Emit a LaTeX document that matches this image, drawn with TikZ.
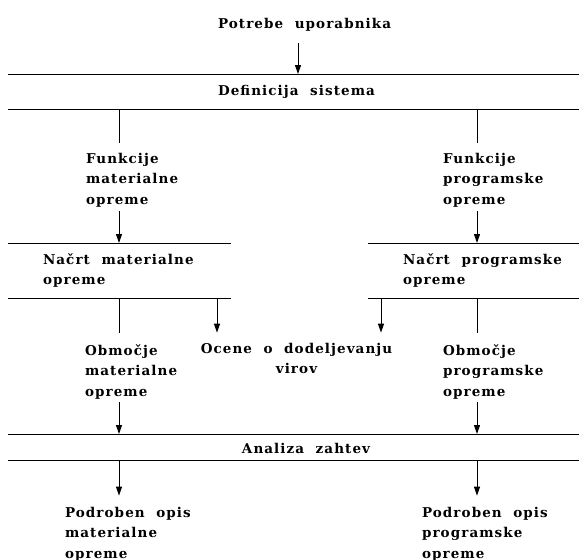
\documentclass[tikz,border=0pt]{standalone}
\usepackage{fontspec}
\setmainfont{DejaVu Serif}[LetterSpace=8,WordSpace=2.0]
\usetikzlibrary{arrows.meta}

% stacked lines whose reference point is the first baseline
\newcommand{\stackL}[1]{\begin{tabular}[t]{@{}l@{}}#1\end{tabular}}
\newcommand{\stackC}[1]{\begin{tabular}[t]{@{}c@{}}#1\end{tabular}}

\begin{document}
\begin{tikzpicture}[x=1pt,y=-1pt,
  txt/.style={inner sep=0pt, outer sep=0pt, anchor=base west,
    font=\fontsize{13.5}{20.5}\selectfont\bfseries},
  ctxt/.style={txt, anchor=base},
  bar/.style={inner sep=0pt, outer sep=0pt, draw=none},
  rule/.style={line width=1pt, black},
  arr/.style={rule, -{Triangle[length=9pt,width=6pt]}}]

\useasboundingbox (0,0) rectangle (579,560);

% column positions of the vertical flows
\coordinate (xm)  at (298,0);
\coordinate (xl)  at (119,0);
\coordinate (xr)  at (477,0);
\coordinate (xol) at (217,0);
\coordinate (xor) at (381,0);

% horizontal bands
\node[bar, minimum width=571pt, minimum height=35pt] (def) at (293.5,91.5) {};
\node[bar, minimum width=223pt, minimum height=55pt] (nm)  at (119.5,270.5) {};
\node[bar, minimum width=211pt, minimum height=55pt] (np)  at (473.5,270.5) {};
\node[bar, minimum width=571pt, minimum height=26pt] (az)  at (293.5,447) {};
\foreach \b in {def,nm,np,az}{
  \draw[rule] (\b.north west) -- (\b.north east);
  \draw[rule] (\b.south west) -- (\b.south east);
}

% texts
\node[txt] (potrebe) at (218,28) {Potrebe uporabnika};
\node[txt] (defl)    at (218,95) {Definicija sistema};
\node[txt] (fm) at (86,163)  {\stackL{Funkcije\\materialne\\opreme}};
\node[txt] (fp) at (443,163) {\stackL{Funkcije\\programske\\opreme}};
\node[txt] (nml) at (43,264)  {\stackL{Na\v{c}rt materialne\\opreme}};
\node[txt] (npl) at (403,264) {\stackL{Na\v{c}rt programske\\opreme}};
\node[txt] (om) at (85,355)  {\stackL{Obmo\v{c}je\\materialne\\opreme}};
\node[txt] (op) at (443,355) {\stackL{Obmo\v{c}je\\programske\\opreme}};
\node[ctxt] (ocene) at (296.5,353) {\stackC{Ocene o dodeljevanju\\virov}};
\node[ctxt] (azl) at (306,453) {Analiza zahtev};
\node[txt] (pm) at (65,517)  {\stackL{Podroben opis\\materialne\\opreme}};
\node[txt] (pp) at (422,517) {\stackL{Podroben opis\\programske\\opreme}};

% flows
\draw[arr, shorten <=12pt] (potrebe.south -| xm) -- (def.north -| xm);

\draw[rule, shorten >=6pt] (def.south -| xl) -- (fm.north -| xl);
\draw[rule, shorten >=6pt] (def.south -| xr) -- (fp.north -| xr);
\draw[arr, shorten <=1pt] (fm.south -| xl) -- (nm.north -| xl);
\draw[arr, shorten <=1pt] (fp.south -| xr) -- (np.north -| xr);

\draw[rule, shorten >=8pt] (nm.south -| xl) -- (om.north -| xl);
\draw[arr, shorten >=6pt] (nm.south -| xol) -- (ocene.north -| xol);
\draw[arr, shorten >=6pt] (np.south -| xor) -- (ocene.north -| xor);
\draw[rule, shorten >=8pt] (np.south -| xr) -- (op.north -| xr);

\draw[arr] (om.south -| xl) -- (az.north -| xl);
\draw[arr] (op.south -| xr) -- (az.north -| xr);

\draw[arr, shorten >=7pt] (az.south -| xl) -- (pm.north -| xl);
\draw[arr, shorten >=7pt] (az.south -| xr) -- (pp.north -| xr);
\end{tikzpicture}
\end{document}
